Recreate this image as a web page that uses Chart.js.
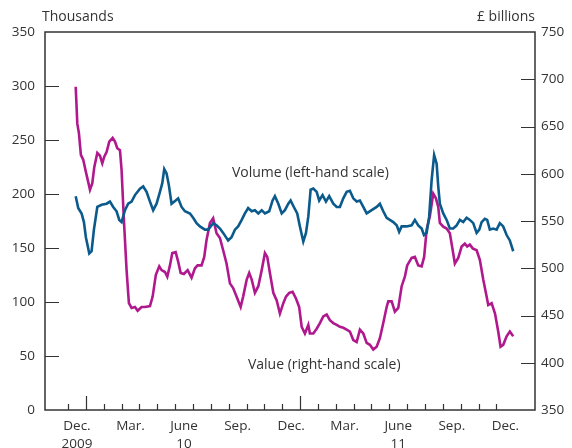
<!DOCTYPE html>
<html lang="en">
<head>
    <meta charset="UTF-8">
    <title>Volume and value</title>
    <script src="https://cdn.jsdelivr.net/npm/chart.js"></script>
    <style>
        html, body { margin: 0; padding: 0; background: #fff; }
        #wrap { width: 572px; height: 448px; }
    </style>
</head>
<body>
    <div id="wrap"><canvas id="chart"></canvas></div>

    <script>
        // x values are months counted from 1 Dec 2009 (0 = Dec 2009, 12 = Dec 2010, 24 = Dec 2011)
        const volumeMonths = [0.43, 0.57, 0.76, 0.89, 1.00, 1.19, 1.32, 1.45, 1.64, 1.88, 2.16, 2.35, 2.53, 2.72, 2.87, 3.00,
            3.19, 3.37, 3.56, 3.75, 4.03, 4.21, 4.40, 4.59, 4.77, 4.96, 5.15, 5.28, 5.39, 5.52, 5.65, 5.80, 6.03, 6.17, 6.36,
            6.55, 6.83, 7.01, 7.20, 7.39, 7.67, 7.85, 8.13, 8.32, 8.51, 8.69, 8.97, 9.16, 9.35, 9.53, 9.73, 9.91, 10.09, 10.29,
            10.47, 10.66, 10.85, 11.03, 11.27, 11.46, 11.59, 11.78, 11.97, 12.15, 12.34, 12.47, 12.65, 12.84, 12.99, 13.18,
            13.33, 13.46, 13.59, 13.74, 13.93, 14.07, 14.26, 14.45, 14.63, 14.86, 15.05, 15.23, 15.42, 15.61, 15.79, 15.98,
            16.17, 16.35, 16.54, 16.73, 17.01, 17.29, 17.47, 17.66, 17.85, 18.03, 18.22, 18.41, 18.55, 18.69, 18.97, 19.25,
            19.43, 19.62, 19.81, 19.94, 20.09, 20.23, 20.37, 20.51, 20.65, 20.74, 20.83, 21.02, 21.21, 21.39, 21.58, 21.77,
            21.95, 22.14, 22.33, 22.51, 22.70, 22.89, 23.04, 23.17, 23.35, 23.48, 23.63, 23.82, 24.01, 24.19, 24.38, 24.57,
            24.75, 24.94];
        const volumeThousands = [198, 187, 182, 174, 160, 145, 147, 167, 188, 190, 191, 193, 188, 184, 176, 174,
            185, 191, 193, 199, 205, 207, 202, 193, 185, 191, 202, 210, 223, 219, 208, 191, 194, 196, 188,
            184, 182, 178, 173, 170, 167, 167, 173, 171, 168, 164, 157, 160, 167, 170, 176, 182, 187, 184,
            185, 182, 185, 182, 184, 194, 198, 191, 182, 185, 191, 194, 188, 182, 170, 156,
            164, 179, 204, 205, 202, 194, 199, 193, 198, 191, 188, 188, 196, 202, 203, 196,
            193, 194, 188, 182, 185, 188, 191, 184, 178, 176, 174, 171, 165, 170, 170, 171,
            176, 171, 168, 162, 164, 179, 213, 236, 228, 207, 191, 182, 176, 168, 168, 171,
            176, 174, 178, 176, 173, 164, 167, 174, 177, 176, 167, 168, 167, 173, 170, 162,
            157, 147];

        const valueMonths = [0.43, 0.52, 0.61, 0.72, 0.85, 1.00, 1.11, 1.23, 1.36, 1.47, 1.64, 1.79, 1.92, 2.03, 2.16, 2.31,
            2.50, 2.63, 2.76, 2.91, 3.00, 3.13, 3.28, 3.41, 3.56, 3.75, 3.90, 4.12, 4.31, 4.59, 4.74, 4.92, 5.11, 5.24, 5.43,
            5.56, 5.71, 5.84, 6.03, 6.17, 6.31, 6.49, 6.70, 6.92, 7.11, 7.26, 7.48, 7.63, 7.76, 7.95, 8.13, 8.32, 8.51, 8.69,
            8.88, 9.07, 9.25, 9.44, 9.67, 9.81, 10.01, 10.15, 10.29, 10.47, 10.66, 10.85, 11.03, 11.16, 11.31, 11.50, 11.69,
            11.87, 12.06, 12.21, 12.39, 12.58, 12.77, 12.95, 13.09, 13.27, 13.46, 13.55, 13.74, 13.93, 14.11, 14.30, 14.49,
            14.67, 14.86, 15.05, 15.23, 15.42, 15.61, 15.79, 15.98, 16.17, 16.35, 16.54, 16.73, 16.91, 17.10, 17.29, 17.47,
            17.66, 17.85, 17.94, 18.13, 18.31, 18.50, 18.69, 18.87, 19.00, 19.25, 19.43, 19.62, 19.81, 19.95, 20.09, 20.27,
            20.46, 20.61, 20.74, 20.83, 21.02, 21.21, 21.39, 21.55, 21.67, 21.86, 22.05, 22.23, 22.36, 22.51, 22.67, 22.89,
            23.07, 23.26, 23.45, 23.54, 23.73, 23.92, 24.10, 24.23, 24.38, 24.57, 24.75, 24.94];
        const valueBillions = [692, 653, 643, 620, 615, 602, 593, 583, 590, 607, 622, 619, 611, 618, 623, 634,
            638, 634, 627, 625, 604, 551, 498, 463, 458, 459, 455, 459, 459, 460, 470, 493, 502, 498, 496,
            491, 503, 516, 517, 507, 495, 494, 498, 490, 500, 503, 503, 512, 530, 548, 553, 537, 532, 519,
            505, 484, 479, 470, 459, 470, 488, 495, 488, 474, 481, 498, 516, 512, 495, 474, 466,
            452, 463, 470, 474, 475, 468, 459, 438, 431, 440, 431, 431, 436, 442, 449, 451,
            445, 442, 440, 438, 437, 435, 433, 424, 422, 435, 431, 421, 419, 414, 417, 426,
            442, 459, 465, 465, 454, 458, 481, 491, 503, 511, 512, 503, 502, 512, 541, 555,
            579, 574, 565, 548, 544, 542, 537, 519, 505, 511, 523, 526, 523, 525, 521, 519,
            509, 488, 470, 461, 463, 452, 433, 417, 419, 428, 433, 428];

        const quarterLabels = ['Dec.', 'Mar.', 'June', 'Sep.', 'Dec.', 'Mar.', 'June', 'Sep.', 'Dec.'];
        const yearLabels = ['2009', '', '10', '', '', '', '11', '', ''];
        const yearStartMonths = [1, 13];
        const monthTicks = 25;

        const blue = '#0b5a8c';
        const magenta = '#b0198e';
        const ink = '#333333';
        const fontFamily = '"Open Sans", Lato, sans-serif';

        const frame = {
            id: 'frame',
            afterDraw(chart) {
                const ctx = chart.ctx;
                const a = chart.chartArea;
                const x = chart.scales.x, y = chart.scales.y, y2 = chart.scales.y2;
                ctx.save();
                ctx.strokeStyle = ink;
                ctx.lineWidth = 1.5;
                ctx.strokeRect(a.left, a.top, a.right - a.left, a.bottom - a.top);
                ctx.lineWidth = 1.2;
                ctx.beginPath();
                // month ticks pointing up from the bottom axis
                for (let m = 0; m < monthTicks; m++) {
                    const px = Math.round(x.getPixelForValue(m)) + 0.5;
                    const len = yearStartMonths.includes(m) ? 14 : 6;
                    ctx.moveTo(px, a.bottom);
                    ctx.lineTo(px, a.bottom - len);
                }
                // inward ticks on both value axes
                y.ticks.forEach(t => {
                    if (t.value <= y.min || t.value >= y.max) return;
                    const py = Math.round(y.getPixelForValue(t.value)) + 0.5;
                    ctx.moveTo(a.left, py);
                    ctx.lineTo(a.left + 14, py);
                });
                y2.ticks.forEach(t => {
                    if (t.value <= y2.min || t.value >= y2.max) return;
                    const py = Math.round(y2.getPixelForValue(t.value)) + 0.5;
                    ctx.moveTo(a.right, py);
                    ctx.lineTo(a.right - 14, py);
                });
                ctx.stroke();

                ctx.fillStyle = ink;
                ctx.font = '14px ' + fontFamily;
                ctx.textBaseline = 'middle';
                ctx.textAlign = 'left';
                ctx.fillText('Thousands', a.left - 3, 17);
                ctx.textAlign = 'right';
                ctx.fillText('£ billions', a.right, 17);

                ctx.textAlign = 'left';
                ctx.fillText('Volume (left-hand scale)', x.getPixelForValue(9.18), y.getPixelForValue(219));
                ctx.fillText('Value (right-hand scale)', x.getPixelForValue(10.08), y.getPixelForValue(42));
                ctx.restore();
            }
        };

        new Chart(document.getElementById('chart'), {
            type: 'line',
            data: {
                datasets: [
                    {
                        label: 'Volume (left-hand scale)',
                        data: volumeMonths.map((m, i) => ({ x: m, y: volumeThousands[i] })),
                        borderColor: blue,
                        borderWidth: 2.6,
                        pointRadius: 0,
                        tension: 0,
                        yAxisID: 'y'
                    },
                    {
                        label: 'Value (right-hand scale)',
                        data: valueMonths.map((m, i) => ({ x: m, y: valueBillions[i] })),
                        borderColor: magenta,
                        borderWidth: 2.6,
                        pointRadius: 0,
                        tension: 0,
                        yAxisID: 'y2'
                    }
                ]
            },
            options: {
                responsive: true,
                maintainAspectRatio: false,
                animation: false,
                layout: { padding: { top: 32, left: 0, right: 0, bottom: 0 } },
                plugins: { legend: { display: false }, tooltip: { enabled: false } },
                scales: {
                    x: {
                        type: 'linear',
                        min: -1.29,
                        max: 26.16,
                        afterBuildTicks: scale => {
                            scale.ticks = quarterLabels.map((_, i) => ({ value: i * 3 + 0.5 }));
                        },
                        afterFit: scale => { scale.height = 38; },
                        grid: { display: false, drawTicks: false },
                        border: { display: false },
                        ticks: {
                            autoSkip: false,
                            maxRotation: 0,
                            padding: 7,
                            color: ink,
                            font: { family: fontFamily, size: 13.5, lineHeight: 1.35 },
                            callback: (v, i) => [quarterLabels[i], yearLabels[i]]
                        }
                    },
                    y: {
                        position: 'left',
                        min: 0,
                        max: 350,
                        afterFit: scale => { scale.width = 45; },
                        grid: { display: false, drawTicks: false },
                        border: { display: false },
                        ticks: { stepSize: 50, padding: 10, color: ink, font: { family: fontFamily, size: 13.5 } }
                    },
                    y2: {
                        position: 'right',
                        min: 350,
                        max: 750,
                        afterFit: scale => { scale.width = 37; },
                        grid: { display: false, drawTicks: false },
                        border: { display: false },
                        ticks: { stepSize: 50, padding: 6, color: ink, font: { family: fontFamily, size: 13.5 } }
                    }
                }
            },
            plugins: [frame]
        });
    </script>
</body>
</html>
